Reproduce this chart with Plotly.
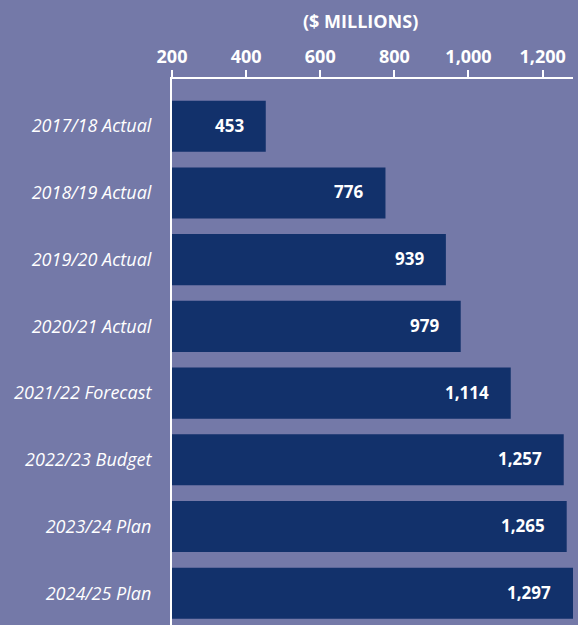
import plotly.graph_objects as go

categories = ["2017/18 Actual", "2018/19 Actual", "2019/20 Actual", "2020/21 Actual",
              "2021/22 Forecast", "2022/23 Budget", "2023/24 Plan", "2024/25 Plan"]
values = [453, 776, 939, 979, 1114, 1257, 1265, 1297]
tick_vals = [200, 400, 600, 800, 1000, 1200]
tick_text = ["200", "400", "600", "800", "1,000", "1,200"]

BG = "#7479A8"
BAR = "#12316B"
FONT = "Open Sans"
XMAX = 1282

W, H = 578, 625
ML, MR, MT, MB = 172, 5, 79, 0
pw = W - ML - MR
ph = H - MT - MB

fig = go.Figure(go.Bar(
    x=values, y=categories, orientation="h",
    marker=dict(color=BAR, line=dict(width=0)),
    hoverinfo="skip",
))

for c, v in zip(categories, values):
    fig.add_annotation(
        x=min(v, XMAX), y=c, xref="x", yref="y", text=f"<b>{v:,}</b>",
        showarrow=False, xanchor="right", xshift=-20, yshift=1,
        font=dict(family=FONT, size=17, color="white"),
    )

fig.add_annotation(
    x=(360 - ML) / pw, y=(H - 21 - MB) / ph, xref="paper", yref="paper",
    text="<b>($ MILLIONS)</b>", showarrow=False, xanchor="center", yanchor="middle",
    font=dict(family=FONT, size=18, color="white"),
)

fig.update_layout(
    width=W, height=H,
    margin=dict(l=ML, r=MR, t=MT, b=MB, pad=0),
    paper_bgcolor=BG, plot_bgcolor=BG,
    bargap=0.235,
    showlegend=False,
    font=dict(family=FONT, color="white"),
)

fig.update_xaxes(
    side="top", range=[200, XMAX], tickvals=tick_vals, ticktext=[f"<b>{t}</b>" for t in tick_text],
    showgrid=False, zeroline=False, showline=True, linecolor="white", linewidth=2,
    ticks="outside", ticklen=7, tickwidth=2, tickcolor="white",
    tickfont=dict(family=FONT, size=18, color="white"),
)
fig.update_yaxes(
    range=[7.475, -0.707], showgrid=False, zeroline=False,
    showline=True, linecolor="white", linewidth=2,
    ticks="", ticklabelstandoff=15,
    tickfont=dict(family=FONT, size=18, color="white"),
    ticktext=[f"<i>{c}</i>" for c in categories], tickvals=categories,
)

fig.write_html(
    "out.html",
    config={"displayModeBar": False},
    post_script="document.body.style.margin='0';document.body.style.padding='0';document.body.style.background='" + BG + "';",
)
